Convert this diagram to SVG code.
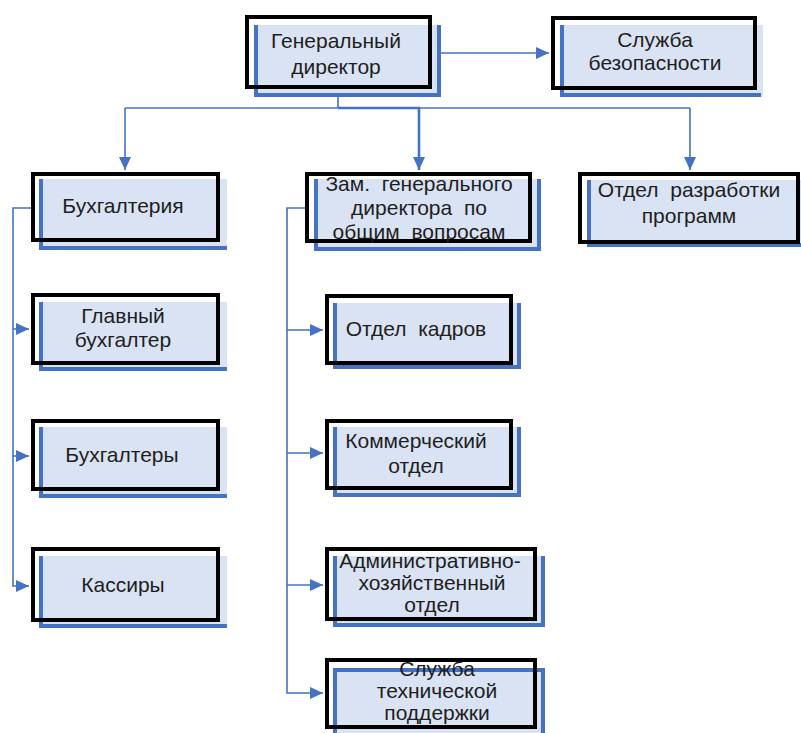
<svg xmlns="http://www.w3.org/2000/svg" width="801" height="733" viewBox="0 0 801 733">
<style>
.bg{fill:#dae3f3;stroke:none}
.bl{fill:none;stroke:#4472c4;stroke-width:4}
.bk{fill:none;stroke:#000;stroke-width:4}
.lbl{font-family:"Liberation Sans",Arial,sans-serif;font-size:21px;fill:#1e1e1e;text-anchor:middle;white-space:pre}
.edge{fill:none;stroke:#4472c4;stroke-width:1.6}
.edge2{fill:none;stroke:#4472c4;stroke-width:2.6}
</style>
<defs>
<marker id="ah" markerUnits="userSpaceOnUse" markerWidth="13" markerHeight="12" refX="13" refY="6" orient="auto">
<path d="M0,0 L13,6 L0,12 z" fill="#4472c4"/>
</marker>
</defs>
<rect width="801" height="733" fill="#fff"/>

<g id="connectors">
<path class="edge" d="M441,53 H549" marker-end="url(#ah)"/>
<path class="edge" d="M338,97 V108"/>
<path class="edge" d="M125,108 H690"/>
<path class="edge2" d="M338,108 H419 V170" marker-end="url(#ah)"/>
<path class="edge" d="M125,108 V170" marker-end="url(#ah)"/>
<path class="edge" d="M690,108 V170" marker-end="url(#ah)"/>
<path class="edge" d="M31,208 H13 V586 H29" marker-end="url(#ah)"/>
<path class="edge" d="M13,329 H29" marker-end="url(#ah)"/>
<path class="edge" d="M13,456 H29" marker-end="url(#ah)"/>
<path class="edge" d="M305,208 H287 V693 H323" marker-end="url(#ah)"/>
<path class="edge" d="M287,330 H323" marker-end="url(#ah)"/>
<path class="edge" d="M287,453 H323" marker-end="url(#ah)"/>
<path class="edge" d="M287,585 H323" marker-end="url(#ah)"/>
</g>

<g id="n-gendir">
<rect class="bg" x="254" y="25" width="187" height="72"/>
<path class="bl" d="M256,25 V95 H439 V25"/>
<rect class="bk" x="247" y="17" width="183" height="70"/>
<text class="lbl" x="336" y="48">Генеральный</text>
<text class="lbl" x="336" y="74">директор</text>
</g>

<g id="n-security">
<rect class="bg" x="560" y="25" width="203" height="72"/>
<path class="bl" d="M562,25 V95 H761"/>
<rect class="bk" x="553" y="18" width="202" height="70"/>
<text class="lbl" x="655" y="47">Служба</text>
<text class="lbl" x="655" y="70">безопасности</text>
</g>

<g id="n-buh">
<rect class="bg" x="39" y="179" width="188" height="71"/>
<path class="bl" d="M41,179 V248 H227"/>
<rect class="bk" x="33" y="174" width="185" height="66"/>
<text class="lbl" x="123" y="213">Бухгалтерия</text>
</g>

<g id="n-glavbuh">
<rect class="bg" x="39" y="302" width="188" height="69"/>
<path class="bl" d="M41,302 V369 H227"/>
<rect class="bk" x="33" y="295" width="185" height="68"/>
<text class="lbl" x="123" y="323">Главный</text>
<text class="lbl" x="123" y="347">бухгалтер</text>
</g>

<g id="n-buhgaltery">
<rect class="bg" x="39" y="427" width="188" height="71"/>
<path class="bl" d="M41,427 V496 H227"/>
<rect class="bk" x="33" y="421" width="185" height="68"/>
<text class="lbl" x="122" y="462">Бухгалтеры</text>
</g>

<g id="n-kassiry">
<rect class="bg" x="39" y="556" width="188" height="72"/>
<path class="bl" d="M41,556 V626 H227"/>
<rect class="bk" x="33" y="549" width="185" height="71"/>
<text class="lbl" x="123" y="592">Кассиры</text>
</g>

<g id="n-zam">
<rect class="bg" x="314" y="179" width="227" height="72"/>
<path class="bl" d="M316,179 V249 H539 V179"/>
<rect class="bk" x="307" y="174" width="223" height="67"/>
<text class="lbl" x="419" y="191">Зам.  генерального</text>
<text class="lbl" x="419" y="215">директора  по</text>
<text class="lbl" x="419" y="239">общим  вопросам</text>
</g>

<g id="n-kadry">
<rect class="bg" x="333" y="303" width="188" height="66"/>
<path class="bl" d="M335,303 V367 H519 V303"/>
<rect class="bk" x="327" y="296" width="184" height="67"/>
<text class="lbl" x="416" y="336">Отдел  кадров</text>
</g>

<g id="n-kommerch">
<rect class="bg" x="333" y="427" width="188" height="70"/>
<path class="bl" d="M335,427 V495 H519 V427"/>
<rect class="bk" x="327" y="421" width="184" height="67"/>
<text class="lbl" x="416" y="448">Коммерческий</text>
<text class="lbl" x="416" y="473">отдел</text>
</g>

<g id="n-aho">
<rect class="bg" x="333" y="556" width="212" height="71"/>
<path class="bl" d="M335,556 V625 H543 V556"/>
<rect class="bk" x="327" y="549" width="208" height="70"/>
<text class="lbl" x="430" y="568">Административно-</text>
<text class="lbl" x="432" y="590">хозяйственный</text>
<text class="lbl" x="432" y="612">отдел</text>
</g>

<g id="n-support">
<rect class="bg" x="333" y="668" width="212" height="66"/>
<path class="bl" d="M335,735 V670 H543 V735"/>
<rect class="bk" x="327" y="660" width="208" height="67"/>
<text class="lbl" x="437" y="676">Служба</text>
<text class="lbl" x="437" y="698">технической</text>
<text class="lbl" x="437" y="720">поддержки</text>
</g>

<g id="n-razrab">
<rect class="bg" x="587" y="180" width="214" height="67"/>
<path class="bl" d="M589,180 V245 H801"/>
<rect class="bk" x="580" y="174" width="218" height="68"/>
<text class="lbl" x="689" y="197">Отдел  разработки</text>
<text class="lbl" x="689" y="223">программ</text>
</g>
</svg>
